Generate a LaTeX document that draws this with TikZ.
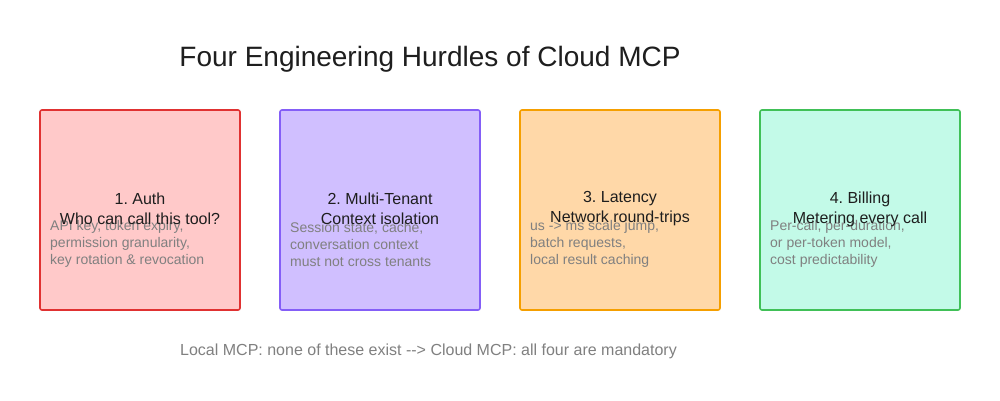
\documentclass[tikz,border=0pt]{standalone}
\usepackage{fontspec}
\setmainfont{Liberation Sans}
\frenchspacing
\definecolor{redfill}{HTML}{FFC9C9}
\definecolor{redline}{HTML}{E03131}
\definecolor{purfill}{HTML}{D0BFFF}
\definecolor{purline}{HTML}{845EF7}
\definecolor{orafill}{HTML}{FFD8A8}
\definecolor{oraline}{HTML}{F59F00}
\definecolor{grnfill}{HTML}{C3FAE8}
\definecolor{grnline}{HTML}{40C057}
\definecolor{titlecol}{HTML}{1E1E1E}
\definecolor{subcol}{HTML}{808080}
\tikzset{
  x=1pt, y=1pt,
  hurdle/.style={draw, line width=1.6pt, rounded corners=2pt, minimum width=200pt, minimum height=200pt, inner sep=0pt},
  headtxt/.style={align=center, text=titlecol, font=\fontsize{16}{20}\selectfont, inner sep=0pt},
  subtxt/.style={align=left, anchor=west, text=subcol, font=\fontsize{14}{17}\selectfont, inner sep=0pt},
}
\begin{document}
\frenchspacing
\begin{tikzpicture}
\useasboundingbox[fill=white] (0,0) rectangle (1000,-400);
\node[text=titlecol, font=\fontsize{28}{32}\selectfont, inner sep=0pt] (title) at (430,-59) {Four Engineering Hurdles of Cloud MCP};

\node[hurdle, fill=redfill, draw=redline] (b1) at (140,-210) {};
\node[hurdle, fill=purfill, draw=purline] (b2) at (380,-210) {};
\node[hurdle, fill=orafill, draw=oraline] (b3) at (620,-210) {};
\node[hurdle, fill=grnfill, draw=grnline] (b4) at (860,-210) {};

\node[subtxt] (s1) at (50,-244) {API key, token expiry,\\permission granularity,\\key rotation \& revocation};
\node[subtxt] (s2) at (290,-244) {Session state, cache,\\conversation context\\must not cross tenants};
\node[subtxt] (s3) at (530,-244) {us -{}> ms scale jump,\\batch requests,\\local result caching};
\node[subtxt] (s4) at (770,-244) {Per-call, per-duration,\\or per-token model,\\cost predictability};

\node[headtxt] (h1) at (140,-209) {1. Auth\\Who can call this tool?};
\node[headtxt] (h2) at (380,-209) {2. Multi-Tenant\\Context isolation};
\node[headtxt] (h3) at (620,-209) {3. Latency\\Network round-trips};
\node[headtxt] (h4) at (860,-209) {4. Billing\\Metering every call};

\node[anchor=west, text=subcol, font=\fontsize{16}{18}\selectfont, inner sep=0pt] (foot) at (180,-351) {Local MCP: none of these exist -{}-{}> Cloud MCP: all four are mandatory};
\end{tikzpicture}
\end{document}
